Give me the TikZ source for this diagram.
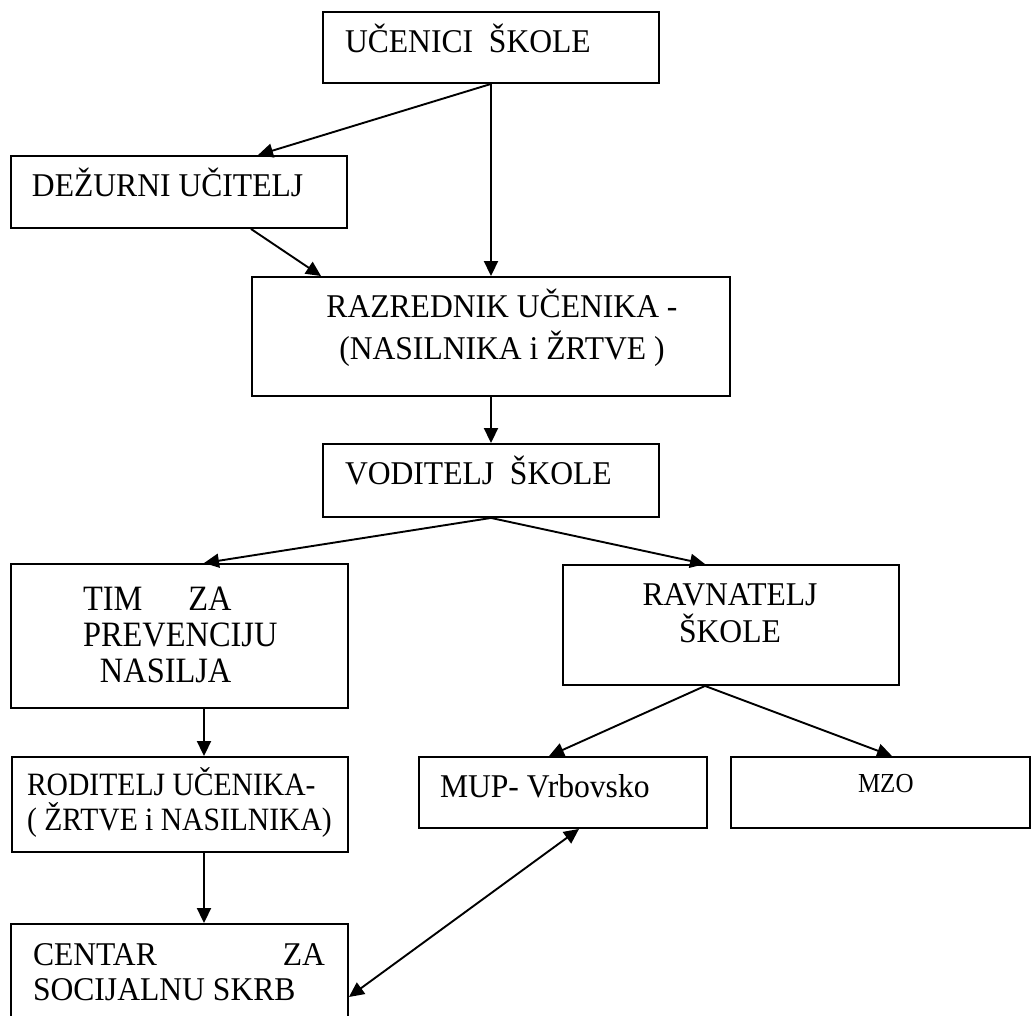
\documentclass[tikz,border=0pt]{standalone}
\usepackage{fontspec}
\usepackage{graphicx}
\setmainfont{Liberation Serif}
\usetikzlibrary{arrows.meta,fit,calc}
\newcommand{\vst}[2]{\smash{\scalebox{1}[#1]{#2}}}
\begin{document}
\begin{tikzpicture}[x=0.5pt,y=-0.5pt,
  boxframe/.style={draw, line width=0.95pt, inner sep=0pt},
  lbl/.style={inner sep=0pt, outer sep=0pt},
  conn/.style={-{Triangle[length=7.5pt,width=7pt]}, line width=0.95pt},
  twoway/.style={{Triangle[length=7.5pt,width=7pt]}-{Triangle[length=7.5pt,width=7pt]}, line width=0.95pt}]
\fill[white] (0,0) rectangle (1033,1016);
\useasboundingbox (0,0) rectangle (1033,1016);

% boxes
\node[boxframe, fit={(323,12)(659,83)}] (ucenici) {};
\node[boxframe, fit={(11,156)(347,228)}] (dezurni) {};
\node[boxframe, fit={(252,277)(730,396)}] (razrednik) {};
\node[boxframe, fit={(323,444)(659,517)}] (voditelj) {};
\node[boxframe, fit={(11,564)(348,708)}] (tim) {};
\node[boxframe, fit={(563,565)(899,685)}] (ravnatelj) {};
\node[boxframe, fit={(12,757)(348,852)}] (roditelj) {};
\node[boxframe, fit={(419,757)(707,828)}] (mup) {};
\node[boxframe, fit={(731,757)(1030,828)}] (mzo) {};
\node[boxframe, fit={(11,924)(348,1030)}] (centar) {};

% texts
\node[lbl, anchor=base west, font=\fontsize{15.8}{18}\selectfont] (tucenici) at (345,53) {\vst{1.05}{UČENICI\ \ ŠKOLE}};
\node[lbl, anchor=base west, font=\fontsize{15.8}{18}\selectfont] (tdezurni) at (32,197) {\vst{1.05}{DEŽURNI UČITELJ}};
\node[lbl, anchor=base, font=\fontsize{15.8}{21}\selectfont] (trazrednik) at (502,317)
  {\begin{tabular}[t]{@{}c@{}}\vst{1.05}{RAZREDNIK UČENIKA -}\\\vst{1.05}{(NASILNIKA i ŽRTVE )}\end{tabular}};
\node[lbl, anchor=base west, font=\fontsize{15.8}{18}\selectfont] (tvoditelj) at (345,484) {\vst{1.05}{VODITELJ\ \ ŠKOLE}};
\node[lbl, anchor=base west, font=\fontsize{16.2}{18}\selectfont] (ttim) at (83,610)
  {\begin{tabular}[t]{@{}l@{}}\vst{1.1}{TIM\hspace{23pt}ZA}\\\vst{1.1}{PREVENCIJU}\\\hspace{8.5pt}\vst{1.1}{NASILJA}\end{tabular}};
\node[lbl, anchor=base, font=\fontsize{15.8}{18.5}\selectfont] (travnatelj) at (730,605)
  {\begin{tabular}[t]{@{}c@{}}\vst{1.05}{RAVNATELJ}\\\vst{1.05}{ŠKOLE}\end{tabular}};
\node[lbl, anchor=base west, font=\fontsize{14.8}{17.5}\selectfont] (troditelj) at (27,795)
  {\begin{tabular}[t]{@{}l@{}}\vst{1.1}{RODITELJ UČENIKA-}\\\vst{1.1}{( ŽRTVE i NASILNIKA)}\end{tabular}};
\node[lbl, anchor=base west, font=\fontsize{15.8}{18}\selectfont] (tmup) at (440,797) {\vst{1.05}{MUP- Vrbovsko}};
\node[lbl, anchor=base west, font=\fontsize{12.5}{15}\selectfont] (tmzo) at (858,792) {\vst{1.1}{MZO}};
\node[lbl, anchor=base west, font=\fontsize{15.8}{17.5}\selectfont] (tcentar) at (33,965)
  {\begin{tabular}[t]{@{}l@{}}\vst{1.05}{\makebox[146pt]{CENTAR\hfill ZA}}\\\vst{1.05}{SOCIJALNU SKRB}\end{tabular}};

% connectors
\draw[conn] (ucenici.south) -- ([xshift=39.5pt]dezurni.north);
\draw[conn] (ucenici.south) -- (razrednik.north);
\draw[conn] ([xshift=36pt]dezurni.south) -- ([xshift=35pt]razrednik.north west);
\draw[conn] (razrednik.south) -- (voditelj.north);
\draw[conn] (voditelj.south) -- ([xshift=12.25pt]tim.north);
\draw[conn] (voditelj.south) -- ([xshift=-13pt]ravnatelj.north);
\draw[conn] ([xshift=-13pt]ravnatelj.south) -- ([xshift=-7pt]mup.north);
\draw[conn] ([xshift=-13pt]ravnatelj.south) -- ([xshift=5.75pt]mzo.north);
\draw[conn] ([xshift=12.25pt]tim.south) -- ([xshift=12pt]roditelj.north);
\draw[conn] ([xshift=12pt]roditelj.south) -- ([xshift=12.25pt]centar.north);
\draw[twoway] ([xshift=8pt]mup.south) -- ([yshift=-10pt]centar.east);
\end{tikzpicture}
\end{document}
